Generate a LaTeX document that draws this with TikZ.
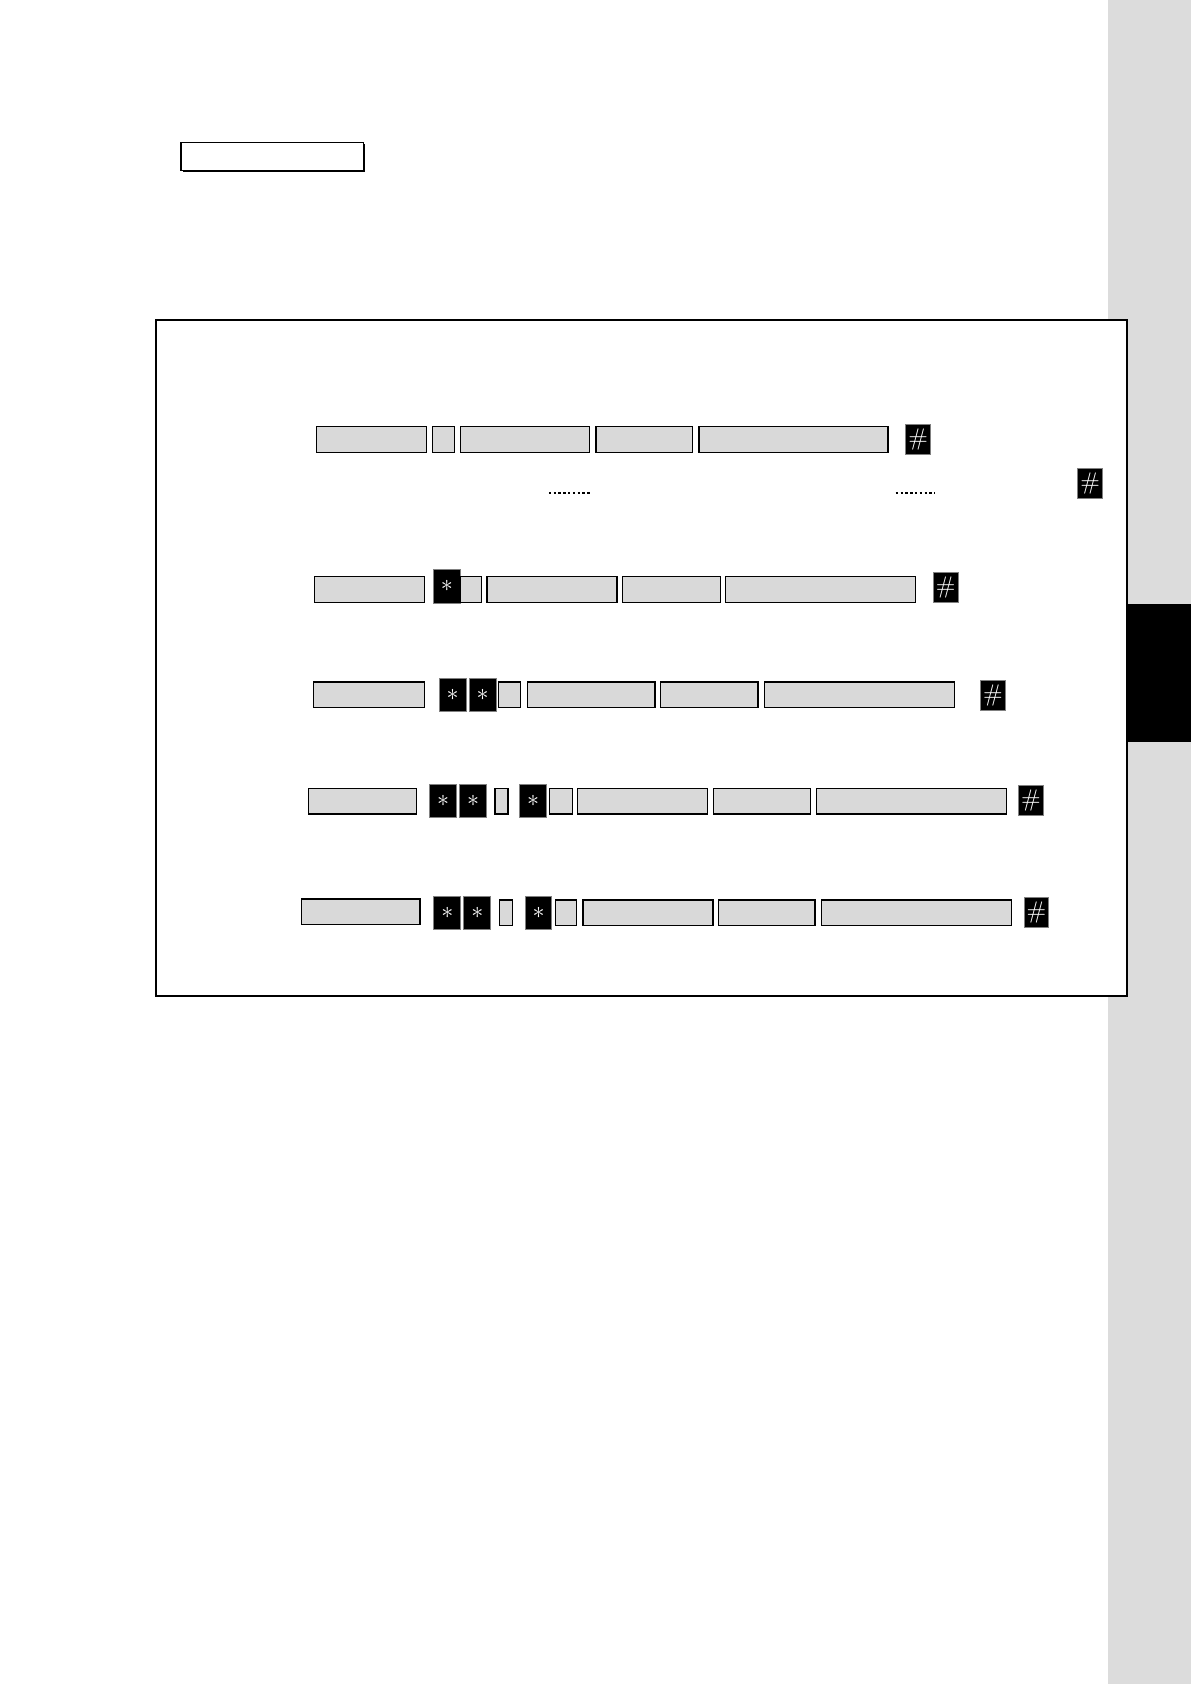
\documentclass[tikz,border=0pt]{standalone}
\usepackage{tikz}
\usetikzlibrary{positioning}

\definecolor{sidegray}{RGB}{220,220,220}
\definecolor{boxgray}{RGB}{217,217,217}

\begin{document}
\begin{tikzpicture}[
		x=0.537pt, y=-0.537pt,
		gbox/.style={rectangle, draw, line width=0.6pt, fill=boxgray, inner sep=0pt, outer sep=0pt, anchor=west, minimum width=#1*0.537pt, minimum height=24*0.537pt},
		starkey/.style={rectangle, draw=gray, line width=0.5pt, fill=black, text=white, inner sep=0pt, outer sep=0pt, minimum width=25*0.537pt, minimum height=31*0.537pt, font=\large},
		hashkey/.style={rectangle, draw=gray, line width=0.5pt, fill=black, text=white, inner sep=0pt, outer sep=0pt, minimum width=23*0.537pt, minimum height=28*0.537pt, font=\large\sffamily},
		dots/.style={line width=1pt, dash pattern=on 1.2pt off 1.2pt}
	]

	\useasboundingbox (0,0) rectangle (1109,1568);

	% side strip, frame and tab
	\fill[sidegray] (1032,0) rectangle (1109,1568);
	\draw[line width=1pt, fill=white] (145,298) rectangle (1049,927);
	\fill[black] (1049,562) rectangle (1109,691);

	% title box
	\fill[black] (170,134) rectangle (340,160);
	\node[rectangle, draw, line width=0.7pt, fill=white, inner sep=0pt, anchor=north west, minimum width=170*0.537pt, minimum height=26*0.537pt] (title) at (168,132) {};

	% row 1
	\node[gbox=102] (a1) at (295,409) {};
	\node[gbox=20, right=3.2pt of a1] (b1) {};
	\node[gbox=120, right=3.2pt of b1] (c1) {};
	\node[gbox=90, right=3.2pt of c1] (d1) {};
	\node[gbox=176, right=3.2pt of d1] (e1) {};
	\node[hashkey] (h1) at (855,409) {\#};

	\draw[dots] (511,459) -- (551,459);
	\draw[dots] (834,459) -- (871,459);
	\node[hashkey] (h1b) at (1015,450) {\#};

	% row 2
	\node[gbox=102] (a2) at (293,549) {};
	\node[starkey] (s2) at (416,546) {$\ast$};
	\node[gbox=20] (b2) at (s2.east |- a2.east) {};
	\node[gbox=121, right=2.7pt of b2] (c2) {};
	\node[gbox=91, right=2.7pt of c2] (d2) {};
	\node[gbox=177, right=2.7pt of d2] (e2) {};
	\node[hashkey] (h2) at (880.5,547) {\#};

	% row 3
	\node[gbox=103] (a3) at (292,647) {};
	\node[starkey] (s3a) at (421.5,647) {$\ast$};
	\node[starkey, right=1.6pt of s3a] (s3b) {$\ast$};
	\node[gbox=21, right=1pt of s3b] (b3) {};
	\node[gbox=119, right=3.2pt of b3] (c3) {};
	\node[gbox=91, right=2.7pt of c3] (d3) {};
	\node[gbox=177, right=3.2pt of d3] (e3) {};
	\node[hashkey] (h3) at (924.5,648) {\#};

	% row 4
	\node[gbox=101] (a4) at (287,746) {};
	\node[starkey] (s4a) at (412.5,746) {$\ast$};
	\node[starkey, right=1.6pt of s4a] (s4b) {$\ast$};
	\node[gbox=12, right=4.3pt of s4b] (b4) {};
	\node[starkey, right=5.9pt of b4] (s4c) {$\ast$};
	\node[gbox=21, right=1.6pt of s4c] (b4x) {};
	\node[gbox=121, right=2.7pt of b4x] (c4) {};
	\node[gbox=91, right=2.7pt of c4] (d4) {};
	\node[gbox=177, right=2.7pt of d4] (e4) {};
	\node[hashkey] (h4) at (960,745.5) {\#};

	% row 5
	\node[gbox=110] (a5) at (281,849) {};
	\node[starkey] (s5a) at (416.5,850) {$\ast$};
	\node[starkey, right=1.6pt of s5a] (s5b) {$\ast$};
	\node[gbox=12, right=4.3pt of s5b] (b5) {};
	\node[starkey, right=6.4pt of b5] (s5c) {$\ast$};
	\node[gbox=20, right=1.6pt of s5c] (b5x) {};
	\node[gbox=121, right=3.2pt of b5x] (c5) {};
	\node[gbox=90, right=2.7pt of c5] (d5) {};
	\node[gbox=177, right=3.2pt of d5] (e5) {};
	\node[hashkey] (h5) at (965,849.5) {\#};

\end{tikzpicture}
\end{document}
